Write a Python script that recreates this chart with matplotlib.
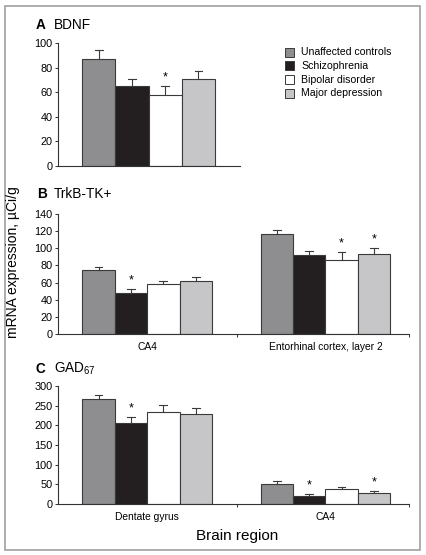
import matplotlib
matplotlib.use("Agg")
import matplotlib.pyplot as plt
from matplotlib.patches import Rectangle

plt.rcParams['font.family'] = ['Liberation Sans', 'DejaVu Sans']
plt.rcParams['mathtext.fontset'] = 'custom'
plt.rcParams['mathtext.rm'] = 'Liberation Sans'

groups = ["Unaffected controls", "Schizophrenia", "Bipolar disorder", "Major depression"]
colors = ["#8e8e90", "#231f20", "#ffffff", "#c6c6c8"]

# A: BDNF
bdnf_mean = [87, 65, 58, 71]
bdnf_err = [7, 6, 7, 6]
bdnf_star = [False, False, True, False]

# B: TrkB-TK+  (CA4, Entorhinal cortex layer 2)
trkb_regions = ["CA4", "Entorhinal cortex, layer 2"]
trkb_mean = [[75, 48, 58, 62], [117, 92, 86, 93]]
trkb_err = [[3, 5, 4, 5], [4, 5, 10, 7]]
trkb_star = [[False, True, False, False], [False, False, True, True]]

# C: GAD67  (Dentate gyrus, CA4)
gad_regions = ["Dentate gyrus", "CA4"]
gad_mean = [[266, 205, 235, 229], [52, 21, 37, 29]]
gad_err = [[10, 16, 16, 15], [7, 5, 6, 5]]
gad_star = [[False, True, False, False], [False, True, False, True]]

W, H = 426, 555
fig = plt.figure(figsize=(W / 100, H / 100), dpi=100)

# light frame round the whole figure
fig.patches.append(Rectangle((5 / W, 5 / H), 415 / W, 544 / H, transform=fig.transFigure,
                             fill=False, edgecolor="#a0a0a0", linewidth=1.2))


def px_axes(left, top, right, bottom):
    return fig.add_axes([left / W, 1 - bottom / H, (right - left) / W, (bottom - top) / H])


def style(ax, ymax, ystep):
    for s in ["top", "right"]:
        ax.spines[s].set_visible(False)
    for s in ["left", "bottom"]:
        ax.spines[s].set_color("#333333")
        ax.spines[s].set_linewidth(0.8)
    ax.set_ylim(0, ymax)
    ax.set_yticks(range(0, ymax + 1, ystep))
    ax.tick_params(axis="y", length=2.5, width=0.7, color="#333333", labelsize=7.8, pad=1.5)


def draw_bars(ax, xs, means, errs, stars, ymax):
    for x, m, e, c, st in zip(xs, means, errs, colors, stars):
        ax.bar(x, m, width=1.0, color=c, edgecolor="#3a3a3a", linewidth=0.8, zorder=2)
        ax.plot([x, x], [m, m + e], color="#3a3a3a", lw=0.8, zorder=3)
        ax.plot([x - 0.12, x + 0.12], [m + e, m + e], color="#3a3a3a", lw=0.8, zorder=3)
        if st:
            ax.text(x, m + e + ymax * 0.02, "*", ha="center", va="bottom", fontsize=9)


# panel A
axA = px_axes(58, 43, 240, 166)
style(axA, 100, 20)
draw_bars(axA, [0, 1, 2, 3], bdnf_mean, bdnf_err, bdnf_star, 100)
axA.set_xlim(-1.23, 4.25)
axA.set_xticks([])

# panel B and C share layout
offsets = [0, 5.5]
for ax_box, ymax, ystep, regions, means, errs, stars in [
        ((58, 214, 409, 334), 140, 20, trkb_regions, trkb_mean, trkb_err, trkb_star),
        ((58, 386, 409, 504), 300, 50, gad_regions, gad_mean, gad_err, gad_star)]:
    ax = px_axes(*ax_box)
    style(ax, ymax, ystep)
    for off, m, e, st in zip(offsets, means, errs, stars):
        draw_bars(ax, [off + i for i in range(4)], m, e, st, ymax)
    ax.set_xlim(-1.25, 9.58)
    ax.set_xticks([4.27, 9.58])
    ax.set_xticklabels([])
    ax.tick_params(axis="x", length=2.5, width=0.7, color="#333333")
    ax.set_xticks([off + 1.5 for off in offsets], minor=True)
    ax.set_xticklabels(regions, minor=True)
    ax.tick_params(axis="x", which="minor", length=0, labelsize=7.4, pad=6)

# panel titles
fig.text(36 / W, 1 - 29 / H, "A", fontsize=9.8, fontweight="bold", va="baseline")
fig.text(54 / W, 1 - 29 / H, "BDNF", fontsize=9.8, va="baseline")
fig.text(37 / W, 1 - 198 / H, "B", fontsize=9.8, fontweight="bold", va="baseline")
fig.text(54 / W, 1 - 198 / H, "TrkB-TK+", fontsize=9.8, va="baseline")
fig.text(36 / W, 1 - 373 / H, "C", fontsize=9.8, fontweight="bold", va="baseline")
fig.text(54 / W, 1 - 373 / H, r"$\mathregular{GAD_{67}}$", fontsize=9.8, va="baseline")

# legend drawn as squares and labels
for i, (g, c) in enumerate(zip(groups, colors)):
    y = 52 + i * 13.8
    fig.patches.append(Rectangle((285 / W, 1 - (y + 4.5) / H), 8.5 / W, 9 / H,
                                 transform=fig.transFigure, facecolor=c,
                                 edgecolor="#3a3a3a", linewidth=0.7))
    fig.text(301 / W, 1 - y / H, g, fontsize=7.6, va="center")

# shared axis labels
fig.text(13 / W, 1 - 262 / H, "mRNA expression, µCi/g", rotation=90, fontsize=10,
         ha="center", va="center")
fig.text(237 / W, 1 - 536 / H, "Brain region", fontsize=11, ha="center", va="center")

fig.savefig("out.png", dpi=100)
